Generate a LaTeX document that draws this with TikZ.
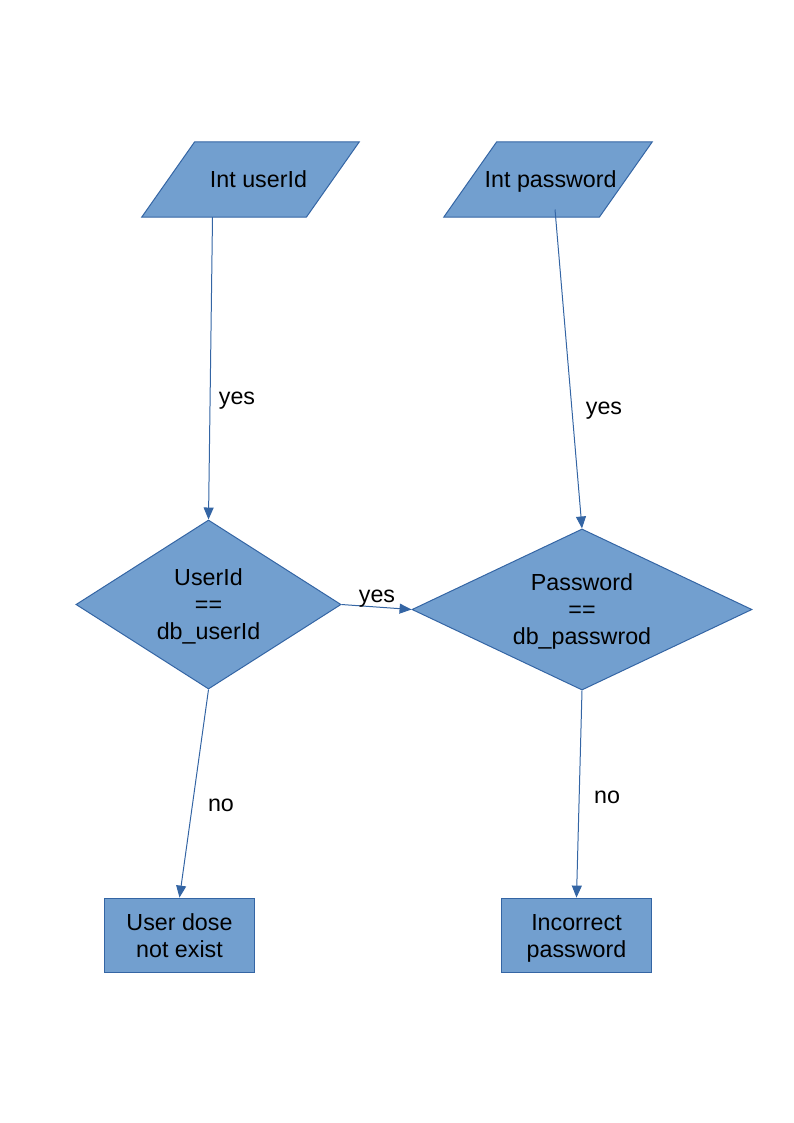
\documentclass[tikz,border=0pt]{standalone}
\usepackage{fontspec}
\setmainfont{Liberation Sans}
\usetikzlibrary{arrows.meta,shapes.geometric,calc,backgrounds}

% last line without its descender
\newcommand{\nodepth}[1]{\raisebox{0pt}[\height][0pt]{#1}}

\begin{document}
\begin{tikzpicture}[
    x=0.02645cm, y=-0.02645cm,
    font=\fontsize{17.5}{20.3}\selectfont,
    every node/.style={align=center},
    inbox/.style={rectangle, minimum height=1.98cm, inner sep=0pt},
    slanted/.style={fill=boxfill, draw=boxline, line width=0.75pt},
    decision/.style={diamond, fill=boxfill, draw=boxline, line width=0.75pt, inner sep=0pt},
    outbox/.style={rectangle, fill=boxfill, draw=boxline, line width=0.75pt,
        minimum width=3.99cm, minimum height=1.98cm, inner sep=0pt},
    link/.style={-{Triangle[length=9pt, width=7.5pt]}, line width=0.75pt, color=boxline},
]

% Colors
\definecolor{boxfill}{HTML}{729FCF}
\definecolor{boxline}{HTML}{3465A4}

% Page
\useasboundingbox (0,0) rectangle (794,1123);

% Inputs
\node[inbox, minimum width=4.34cm] (userin) at (250.5, 179.5) {\hspace*{12pt}Int userId};
\node[inbox, minimum width=4.1cm] (passin) at (548, 179.5) {\hspace*{4pt}\nodepth{Int password}};

% Input parallelograms behind the text
\begin{scope}[on background layer]
\foreach \n in {userin, passin} {
    \draw[slanted] ($(\n.south west)+(-26.5,0)$) -- ($(\n.south east)+(-26.5,0)$)
        -- ($(\n.north east)+(26.5,0)$) -- ($(\n.north west)+(26.5,0)$) -- cycle;
}
\end{scope}

% Checks
\node[decision, aspect=1.57, minimum width=7.01cm, minimum height=4.47cm]
    (usercheck) at (208.5, 604.5) {UserId\\==\\\nodepth{db\_userId}};
\node[decision, aspect=2.11, minimum width=8.99cm, minimum height=4.26cm]
    (passcheck) at (582, 609.5) {Password\\==\\\nodepth{db\_passwrod}};

% Results
\node[outbox] (nouser) at (179.5, 935.5) {User dose\\not exist};
\node[outbox] (badpass) at (576.5, 935.5) {Incorrect\\\nodepth{password}};

% Connectors
\draw[link] ($(userin.south)+(-38,0)$) -- (usercheck.north);
\draw[link] ($(passin.center)+(7,30)$) -- (passcheck.north);
\draw[link] (usercheck.east) -- (passcheck.west);
\draw[link] (usercheck.south) -- (nouser.north);
\draw[link] (passcheck.south) -- (badpass.north);

% Labels
\node (yesuser) at (237, 401) {yes};
\node (yespass) at (604, 411) {yes};
\node (yesmid) at (377, 599) {yes};
\node (nouserlbl) at (221, 805) {no};
\node (nopasslbl) at (607, 797) {no};

\end{tikzpicture}
\end{document}
